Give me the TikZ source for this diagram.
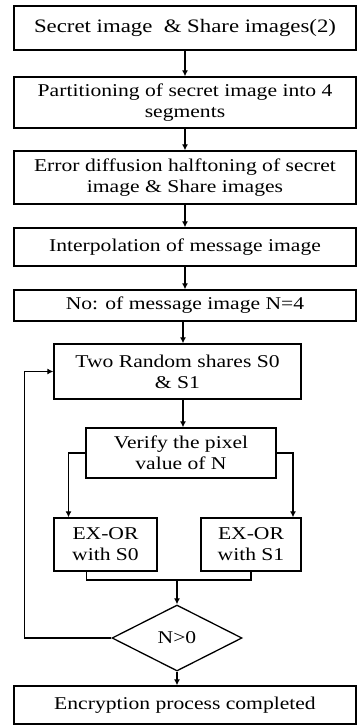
\documentclass[tikz,border=0pt]{standalone}
\usepackage{fontspec}
\setmainfont[FakeStretch=1.2]{Liberation Serif}
\usetikzlibrary{shapes.geometric,arrows.meta}

\begin{document}
\begin{tikzpicture}[x=1pt,y=-1pt,
  box/.style={draw,line width=1.3pt,align=center,inner sep=1pt,
    font=\fontsize{18}{21}\selectfont},
  arr/.style={line width=1.3pt,-{Latex[length=6pt,width=6pt]}}]
\useasboundingbox (0,0) rectangle (357,725);
% main column
\node[box,minimum width=342,minimum height=44,font=\fontsize{19}{21}\selectfont] (secret) at (185,28) {Secret image \ \& Share images(2)};
\node[box,minimum width=342,minimum height=51] (part) at (185,102.5) {Partitioning of secret image into 4\\segments};
\node[box,minimum width=342,minimum height=53] (half) at (185,177.5) {Error diffusion halftoning of secret\\image \& Share images};
\node[box,minimum width=342,minimum height=38] (interp) at (185,247) {Interpolation of message image};
\node[box,minimum width=342,minimum height=31] (count) at (185,305.5) {No: of message image N=4};
\node[box,minimum width=247,minimum height=55] (shares) at (177.5,371.5) {Two Random shares S0\\\& S1};
\node[box,minimum width=190,minimum height=50] (verify) at (181,453) {Verify the pixel\\value of N};
% two branches
\node[box,minimum width=103,minimum height=53] (exor0) at (105.5,544.5) {EX-OR\\with S0};
\node[box,minimum width=100,minimum height=53] (exor1) at (251,544.5) {EX-OR\\with S1};
\coordinate (merge) at (177,580);
\node[box,shape=diamond,inner sep=0pt,minimum width=130,minimum height=66] (check) at (177,638) {N>0};
\node[box,minimum width=342,minimum height=38] (done) at (185,705) {Encryption process completed};

\draw[arr] (secret) -- (part);
\draw[arr] (part) -- (half);
\draw[arr] (half) -- (interp);
\draw[arr] (interp) -- (count);
\draw[arr] ([xshift=-2]count.south) -- ([xshift=5.5]shares.north);
\draw[arr] ([xshift=5.5]shares.south) -- ([xshift=2]verify.north);
\draw[arr] (verify.west) -| ([xshift=-37]exor0.north);
\draw[arr] (verify.east) -| ([xshift=42]exor1.north);
\draw[line width=1.3pt] ([xshift=-19]exor0.south) |- (merge) -| (exor1.south);
\draw[arr] (merge) -- (check.north);
\draw[arr] (check.west) -- ++(-87,0) |- (shares.west);
\draw[arr] (check.south) -- ([xshift=-8]done.north);
\end{tikzpicture}
\end{document}
